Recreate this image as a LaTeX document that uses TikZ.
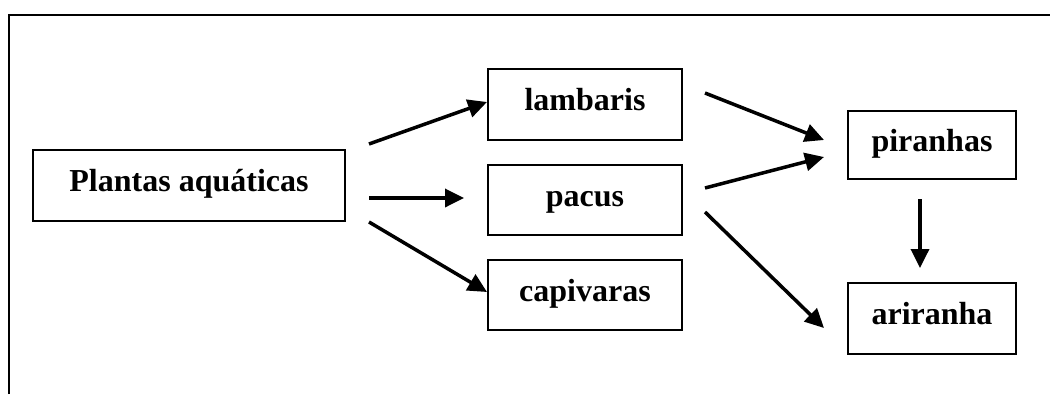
\documentclass[tikz,border=0pt]{standalone}
\usepackage{fontspec}
\setmainfont{Liberation Serif}
\usetikzlibrary{arrows.meta,calc}
\begin{document}
\begin{tikzpicture}[x=1pt,y=-1pt,
  box/.style={draw,line width=2pt,minimum height=71pt,inner sep=0pt,
    text height=22pt,text depth=10pt,
    font=\fontsize{32}{36}\selectfont\bfseries},
  arr/.style={line width=3.5pt,-{Triangle[length=19pt,width=18pt]}},
  frame/.style={line width=2pt}]
\useasboundingbox (0,0) rectangle (1050,394);
\coordinate (ftl) at (9,15);
\coordinate (ftr) at (1050,15);
\coordinate (fbl) at (9,394);
\draw[frame] (fbl) -- (ftl) -- (ftr);
\node[box,minimum width=312pt] (plants) at (189,185.5) {Plantas aquáticas};
\node[box,minimum width=194pt] (lamb) at (585,104.5) {lambaris};
\node[box,minimum width=194pt,minimum height=70pt] (pacus) at (585,200) {pacus};
\node[box,minimum width=194pt,minimum height=70pt] (capiv) at (585,295) {capivaras};
\node[box,minimum width=168pt,minimum height=68pt] (pir) at (932,145) {piranhas};
\node[box,minimum width=168pt] (ari) at (932,318.5) {ariranha};
\draw[arr] ($(plants.east)+(23,-41.5)$) -- ($(lamb.west)+(0,-2.5)$);
\draw[arr] ($(plants.east)+(23,12.5)$) -- ($(pacus.west)+(-23,-2)$);
\draw[arr] ($(plants.east)+(23,36.5)$) -- ($(capiv.west)+(0,-3)$);
\draw[arr] ($(lamb.east)+(22,-11.5)$) -- ($(pir.west)+(-23,-5)$);
\draw[arr] ($(pacus.east)+(22,-12)$) -- ($(pir.west)+(-23,12)$);
\draw[arr] ($(pacus.east)+(22,12)$) -- ($(ari.west)+(-23,9.5)$);
\draw[arr] ($(pir.south)+(-12,19)$) -- ($(ari.north)+(-12,-14)$);
\end{tikzpicture}
\end{document}
